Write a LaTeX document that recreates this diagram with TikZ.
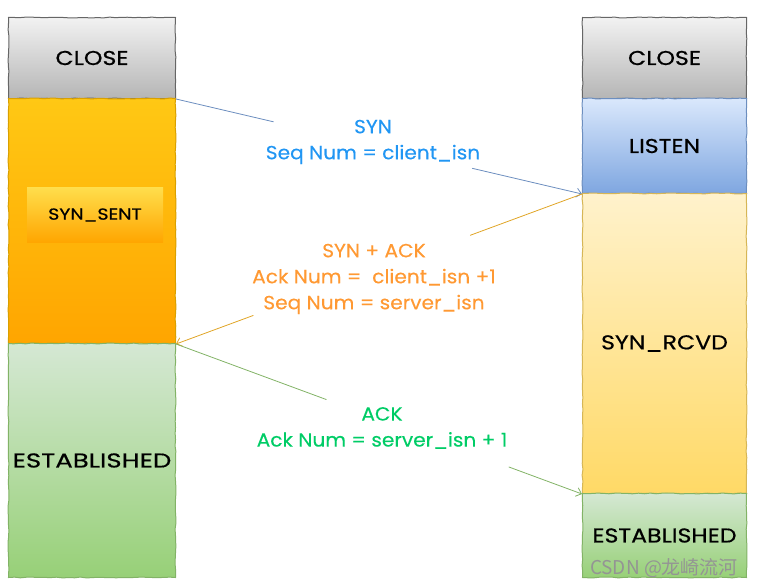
\documentclass[tikz,border=0pt]{standalone}
\usepackage{fontspec}
\setmainfont{Poppins}
\newfontfamily\cjkfont{Noto Sans CJK SC}
\newfontfamily\boxfont{Poppins}[FakeStretch=1.18,FakeBold=0.6]
\newfontfamily\msgfont{Poppins}[FakeStretch=1.06,FakeBold=0.3]
\usetikzlibrary{positioning,calc,arrows.meta,decorations.pathmorphing}

\definecolor{closetop}{HTML}{F2F2F2}
\definecolor{closebot}{HTML}{B5B5B5}
\definecolor{closeline}{HTML}{666666}
\definecolor{senttop}{HTML}{FFC814}
\definecolor{sentbot}{HTML}{FFA500}
\definecolor{sentline}{HTML}{D9A000}
\definecolor{listentop}{HTML}{DAE8FC}
\definecolor{listenbot}{HTML}{7EA6E0}
\definecolor{listenline}{HTML}{6C8EBF}
\definecolor{rcvdtop}{HTML}{FFF2CC}
\definecolor{rcvdbot}{HTML}{FFD966}
\definecolor{rcvdline}{HTML}{D6B656}
\definecolor{esttop}{HTML}{D5E8D4}
\definecolor{estbot}{HTML}{97D077}
\definecolor{estline}{HTML}{82B366}
\definecolor{synblue}{HTML}{2196F3}
\definecolor{ackorange}{HTML}{FF9933}
\definecolor{ackgreen}{HTML}{00CC66}
\definecolor{arrorange}{HTML}{E0A526}

\begin{document}
\begin{tikzpicture}[x=1pt,y=-1pt,
    state/.style={draw, line width=1pt, inner sep=0pt, anchor=north west,
      decorate, decoration={random steps,segment length=6pt,amplitude=0.45pt},
      font=\boxfont\fontsize{20}{24}\selectfont},
    closebox/.style={state, draw=closeline, top color=closetop, bottom color=closebot},
    sentbox/.style={state, draw=sentline, top color=senttop, bottom color=sentbot},
    listenbox/.style={state, draw=listenline, top color=listentop, bottom color=listenbot},
    rcvdbox/.style={state, draw=rcvdline, top color=rcvdtop, bottom color=rcvdbot},
    estbox/.style={state, draw=estline, top color=esttop, bottom color=estbot},
    msg/.style={line width=0.8pt, line cap=round},
    tip/.style={-{Straight Barb[length=5pt,width=9pt]}},
    lbl/.style={align=center, font=\msgfont\fontsize{19}{26}\selectfont}]
  \useasboundingbox (0,0) rectangle (758,588);

  % client side
  \node[closebox, minimum width=167pt, minimum height=81pt] (lclose) at (8,17) {CLOSE};
  \node[sentbox, minimum width=167pt, minimum height=245pt] (lsent) at (8,98) {};
  \node[inner sep=0pt, minimum width=136pt, minimum height=55pt, top color=senttop!80!yellow!75, bottom color=sentbot,
    font=\boxfont\fontsize{16}{20}\selectfont] (lsenttxt) at (95,215) {SYN\_SENT};
  \node[estbox, minimum width=167pt, minimum height=234pt,
    font=\boxfont\fontsize{20}{24}\addfontfeature{FakeStretch=1.3}\selectfont] (lest) at (8,343) {ESTABLISHED};

  % server side
  \node[closebox, minimum width=164pt, minimum height=81pt] (rclose) at (582,17) {CLOSE};
  \node[listenbox, minimum width=164pt, minimum height=95pt] (rlisten) at (582,98) {LISTEN};
  \node[rcvdbox, minimum width=164pt, minimum height=300pt] (rrcvd) at (582,193) {SYN\_RCVD};
  \node[estbox, minimum width=164pt, minimum height=84pt] (rest) at (582,493) {ESTABLISHED};

  % messages
  \node[lbl, text=synblue] (synlbl) at (373,142) {SYN\\Seq Num = client\_isn};
  \node[lbl, text=ackorange] (synacklbl) at (374,279) {SYN + ACK\\Ack Num = \ client\_isn +1\\Seq Num = server\_isn};
  \node[lbl, text=ackgreen] (acklbl) at (382,428) {ACK\\Ack Num = server\_isn + 1};

  \draw[msg, listenline] (lclose.south east) -- ($(lclose.south east)!0.24!(rlisten.south west)$);
  \draw[msg, tip, listenline] ($(lclose.south east)!0.73!(rlisten.south west)$) -- (rlisten.south west);

  \draw[msg, arrorange] (rlisten.south west) -- ($(rlisten.south west)!0.275!(lsent.south east)$);
  \draw[msg, tip, arrorange] ($(rlisten.south west)!0.81!(lsent.south east)$) -- (lsent.south east);

  \draw[msg, estline] (lsent.south east) -- ($(lsent.south east)!0.37!(rrcvd.south west)$);
  \draw[msg, tip, estline] ($(lsent.south east)!0.82!(rrcvd.south west)$) -- (rrcvd.south west);

  \node[text=black!42, font=\cjkfont\fontsize{19}{22}\selectfont] (mark) at (664,568) {CSDN @龙崎流河};
\end{tikzpicture}
\end{document}
